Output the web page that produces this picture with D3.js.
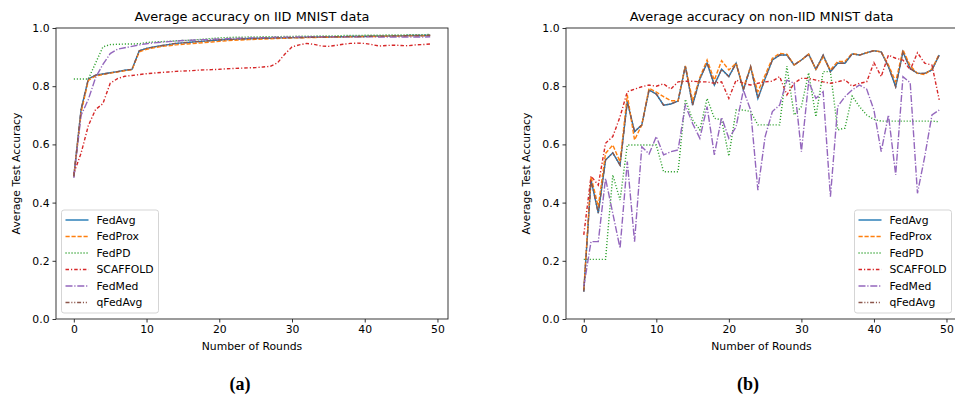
<!DOCTYPE html>
<html>
<head>
<meta charset="utf-8">
<script src="https://cdn.jsdelivr.net/npm/d3@7"></script>
<style>
  body { margin: 0; background: #fff; }
  svg { display: block; font-family: "DejaVu Sans", sans-serif; }
</style>
</head>
<body>
<svg id="chart" width="955" height="398"></svg>
<script>
// noms des méthodes et styles de lignes (couleurs tab10)
const methods = ["FedAvg", "FedProx", "FedPD", "SCAFFOLD", "FedMed", "qFedAvg"];
const colors = ["#1f77b4", "#ff7f0e", "#2ca02c", "#d62728", "#9467bd", "#8c564b"];
const dashes = ["none", "4.2,1.8", "1.1,1.9", "3.5,2,1.2,2", "7,1.8,1.2,1.8", "4,1.8,1.1,1.8,1.1,1.8"];

const xTicks = [0, 10, 20, 30, 40, 50];
const yTicks = [0.0, 0.2, 0.4, 0.6, 0.8, 1.0];

// (a) données IID
const iidFedAvg = [0.49, 0.72, 0.825, 0.838, 0.842, 0.846, 0.85, 0.855, 0.858, 0.922,
  0.93, 0.935, 0.939, 0.943, 0.947, 0.949, 0.951, 0.953, 0.955, 0.957,
  0.959, 0.96, 0.961, 0.962, 0.963, 0.964, 0.965, 0.965, 0.966, 0.966,
  0.967, 0.967, 0.968, 0.968, 0.969, 0.969, 0.97, 0.97, 0.971, 0.971,
  0.971, 0.972, 0.972, 0.972, 0.973, 0.973, 0.974, 0.974, 0.974, 0.975];
const iidFedProx = [0.49, 0.71, 0.82, 0.835, 0.84, 0.845, 0.849, 0.853, 0.857, 0.918,
  0.927, 0.932, 0.936, 0.939, 0.942, 0.944, 0.946, 0.948, 0.95, 0.952,
  0.954, 0.956, 0.958, 0.959, 0.96, 0.961, 0.962, 0.963, 0.964, 0.965,
  0.966, 0.966, 0.967, 0.967, 0.968, 0.968, 0.969, 0.969, 0.97, 0.97,
  0.971, 0.971, 0.971, 0.972, 0.972, 0.972, 0.973, 0.973, 0.973, 0.974];
const iidFedPD = [0.825, 0.825, 0.825, 0.88, 0.935, 0.943, 0.944, 0.945, 0.945, 0.946,
  0.95, 0.952, 0.953, 0.954, 0.956, 0.957, 0.958, 0.96, 0.962, 0.964,
  0.966, 0.967, 0.968, 0.968, 0.969, 0.969, 0.97, 0.97, 0.97, 0.971,
  0.971, 0.972, 0.972, 0.972, 0.973, 0.973, 0.973, 0.974, 0.974, 0.974,
  0.975, 0.975, 0.975, 0.976, 0.976, 0.976, 0.977, 0.977, 0.977, 0.978];
const iidScaffold = [0.5, 0.57, 0.665, 0.72, 0.74, 0.81, 0.826, 0.834, 0.837, 0.84,
  0.843, 0.845, 0.847, 0.849, 0.851, 0.852, 0.853, 0.855, 0.856, 0.857,
  0.858, 0.86, 0.861, 0.862, 0.863, 0.864, 0.866, 0.868, 0.88, 0.91,
  0.935, 0.942, 0.947, 0.944, 0.938, 0.937, 0.94, 0.944, 0.947, 0.948,
  0.947, 0.943, 0.938, 0.94, 0.941, 0.94, 0.939, 0.942, 0.943, 0.945];
const iidFedMed = [0.485, 0.7, 0.755, 0.83, 0.875, 0.912, 0.927, 0.932, 0.937, 0.942,
  0.946, 0.949, 0.951, 0.953, 0.955, 0.957, 0.958, 0.959, 0.96, 0.961,
  0.962, 0.963, 0.964, 0.965, 0.966, 0.966, 0.967, 0.967, 0.968, 0.968,
  0.969, 0.969, 0.969, 0.97, 0.97, 0.97, 0.97, 0.97, 0.97, 0.97,
  0.97, 0.97, 0.969, 0.969, 0.969, 0.969, 0.969, 0.969, 0.969, 0.97];
const iidQFedAvg = [0.49, 0.72, 0.825, 0.838, 0.842, 0.846, 0.85, 0.855, 0.858, 0.922,
  0.93, 0.935, 0.939, 0.943, 0.947, 0.949, 0.951, 0.953, 0.955, 0.957,
  0.959, 0.96, 0.961, 0.962, 0.963, 0.964, 0.965, 0.965, 0.966, 0.966,
  0.967, 0.967, 0.968, 0.968, 0.969, 0.969, 0.97, 0.97, 0.971, 0.971,
  0.971, 0.972, 0.972, 0.972, 0.973, 0.973, 0.974, 0.974, 0.974, 0.975];

// (b) données non-IID
const niidFedAvg = [0.094, 0.478, 0.364, 0.546, 0.571, 0.529, 0.747, 0.644, 0.667, 0.787,
  0.773, 0.735, 0.739, 0.749, 0.869, 0.735, 0.825, 0.88, 0.804, 0.858,
  0.833, 0.879, 0.787, 0.867, 0.758, 0.826, 0.89, 0.907, 0.907, 0.873,
  0.89, 0.91, 0.858, 0.907, 0.85, 0.879, 0.879, 0.911, 0.907, 0.915,
  0.922, 0.918, 0.867, 0.798, 0.918, 0.861, 0.844, 0.844, 0.856, 0.907];
const niidFedProx = [0.1, 0.489, 0.386, 0.569, 0.598, 0.54, 0.77, 0.615, 0.667, 0.793,
  0.78, 0.764, 0.75, 0.75, 0.87, 0.75, 0.83, 0.89, 0.821, 0.888,
  0.856, 0.879, 0.793, 0.867, 0.781, 0.838, 0.896, 0.913, 0.91, 0.873,
  0.89, 0.91, 0.858, 0.9, 0.856, 0.885, 0.885, 0.913, 0.907, 0.915,
  0.922, 0.918, 0.873, 0.815, 0.925, 0.87, 0.844, 0.84, 0.86, 0.91];
const niidFedPD = [0.205, 0.205, 0.205, 0.205, 0.495, 0.409, 0.598, 0.598, 0.598, 0.598,
  0.598, 0.506, 0.506, 0.506, 0.755, 0.684, 0.65, 0.758, 0.69, 0.684,
  0.56, 0.718, 0.718, 0.713, 0.667, 0.667, 0.667, 0.667, 0.869, 0.701,
  0.73, 0.846, 0.695, 0.85, 0.85, 0.65, 0.656, 0.766, 0.73, 0.701,
  0.686, 0.68, 0.68, 0.68, 0.68, 0.68, 0.68, 0.68, 0.68, 0.678];
const niidScaffold = [0.289, 0.491, 0.46, 0.604, 0.627, 0.695, 0.781, 0.79, 0.798, 0.804,
  0.8, 0.808, 0.79, 0.815, 0.817, 0.817, 0.815, 0.815, 0.81, 0.815,
  0.758, 0.821, 0.81, 0.804, 0.81, 0.815, 0.817, 0.833, 0.77, 0.81,
  0.827, 0.827, 0.821, 0.815, 0.81, 0.815, 0.822, 0.8, 0.81, 0.815,
  0.881, 0.833, 0.907, 0.896, 0.89, 0.856, 0.915, 0.879, 0.873, 0.753];
const niidFedMed = [0.111, 0.266, 0.266, 0.483, 0.363, 0.243, 0.541, 0.266, 0.592, 0.567,
  0.627, 0.564, 0.575, 0.581, 0.735, 0.672, 0.621, 0.73, 0.564, 0.693,
  0.621, 0.661, 0.787, 0.718, 0.443, 0.627, 0.713, 0.735, 0.821, 0.81,
  0.575, 0.815, 0.758, 0.781, 0.42, 0.73, 0.764, 0.787, 0.804, 0.79,
  0.718, 0.575, 0.701, 0.495, 0.833, 0.812, 0.432, 0.558, 0.701, 0.718];
const niidQFedAvg = [0.094, 0.478, 0.364, 0.546, 0.571, 0.529, 0.747, 0.644, 0.667, 0.787,
  0.773, 0.735, 0.739, 0.749, 0.869, 0.735, 0.825, 0.88, 0.804, 0.858,
  0.833, 0.879, 0.787, 0.867, 0.758, 0.826, 0.89, 0.907, 0.907, 0.873,
  0.89, 0.91, 0.858, 0.907, 0.85, 0.879, 0.879, 0.911, 0.907, 0.915,
  0.922, 0.918, 0.867, 0.798, 0.918, 0.861, 0.844, 0.844, 0.856, 0.907];

const svg = d3.select("#chart");
const fontSize = "10.8px";

// Dessiner un panneau (axes, courbes, légende)
function drawPanel(opts) {
  const { left, right, top, bottom, title, series, legendX, caption, captionX } = opts;

  const x = d3.scaleLinear().domain([-2.45, 51.45]).range([left, right]);
  const y = d3.scaleLinear().domain([0, 1]).range([bottom, top]);

  const g = svg.append("g");

  // clip pour les courbes
  const clipId = "clip-" + Math.round(left);
  svg.append("clipPath").attr("id", clipId)
    .append("rect")
    .attr("x", left).attr("y", top)
    .attr("width", right - left).attr("height", bottom - top);

  const line = d3.line()
    .x((d, i) => x(i))
    .y(d => y(d));

  g.append("g").attr("clip-path", `url(#${clipId})`)
    .selectAll("path")
    .data(series)
    .join("path")
    .attr("d", d => line(d))
    .attr("fill", "none")
    .attr("stroke", (d, i) => colors[i])
    .attr("stroke-width", 1.4)
    .attr("stroke-dasharray", (d, i) => dashes[i]);

  // axe X
  const xAxis = g.append("g")
    .attr("transform", `translate(0,${bottom})`)
    .call(d3.axisBottom(x).tickValues(xTicks).tickSize(3.5).tickPadding(3).tickFormat(d3.format("d")));
  xAxis.select(".domain").remove();

  // axe Y
  const yAxis = g.append("g")
    .attr("transform", `translate(${left},0)`)
    .call(d3.axisLeft(y).tickValues(yTicks).tickSize(3.5).tickPadding(3).tickFormat(d3.format(".1f")));
  yAxis.select(".domain").remove();

  g.selectAll(".tick text")
    .attr("font-size", fontSize)
    .attr("font-family", "DejaVu Sans, sans-serif")
    .attr("fill", "#000");
  g.selectAll(".tick line").attr("stroke", "#000").attr("stroke-width", 0.8);

  // cadre
  g.append("rect")
    .attr("x", left).attr("y", top)
    .attr("width", right - left).attr("height", bottom - top)
    .attr("fill", "none")
    .attr("stroke", "#222")
    .attr("stroke-width", 0.9);

  // titres
  g.append("text")
    .attr("x", (left + right) / 2).attr("y", top - 7)
    .attr("text-anchor", "middle")
    .attr("font-size", "12.9px")
    .text(title);

  g.append("text")
    .attr("x", (left + right) / 2).attr("y", bottom + 31)
    .attr("text-anchor", "middle")
    .attr("font-size", fontSize)
    .text("Number of Rounds");

  g.append("text")
    .attr("transform", `translate(${left - 36},${(top + bottom) / 2}) rotate(-90)`)
    .attr("text-anchor", "middle")
    .attr("font-size", fontSize)
    .text("Average Test Accuracy");

  // légende
  const lg = g.append("g").attr("transform", `translate(${legendX},210)`);
  lg.append("rect")
    .attr("width", 97).attr("height", 103)
    .attr("rx", 2.5)
    .attr("fill", "#fff").attr("fill-opacity", 0.8)
    .attr("stroke", "#d0d0d0").attr("stroke-width", 0.9);

  const items = lg.selectAll("g.item")
    .data(methods)
    .join("g")
    .attr("class", "item")
    .attr("transform", (d, i) => `translate(0,${10 + i * 16.5})`);

  items.append("line")
    .attr("x1", 4).attr("x2", 27)
    .attr("stroke", (d, i) => colors[i])
    .attr("stroke-width", 1.4)
    .attr("stroke-dasharray", (d, i) => dashes[i]);

  items.append("text")
    .attr("x", 35).attr("dy", "0.35em")
    .attr("font-size", fontSize)
    .text(d => d);

  // sous-légende (a)/(b)
  svg.append("text")
    .attr("x", captionX).attr("y", 390)
    .attr("text-anchor", "middle")
    .attr("font-family", "Liberation Serif, serif")
    .attr("font-weight", "bold")
    .attr("font-size", "18px")
    .text(caption);
}

drawPanel({
  left: 56, right: 448, top: 28, bottom: 319,
  title: "Average accuracy on IID MNIST data",
  series: [iidFedAvg, iidFedProx, iidFedPD, iidScaffold, iidFedMed, iidQFedAvg],
  legendX: 61.5, caption: "(a)", captionX: 240
});

drawPanel({
  left: 566, right: 957, top: 28, bottom: 319,
  title: "Average accuracy on non-IID MNIST data",
  series: [niidFedAvg, niidFedProx, niidFedPD, niidScaffold, niidFedMed, niidQFedAvg],
  legendX: 854.5, caption: "(b)", captionX: 748
});
</script>
</body>
</html>
